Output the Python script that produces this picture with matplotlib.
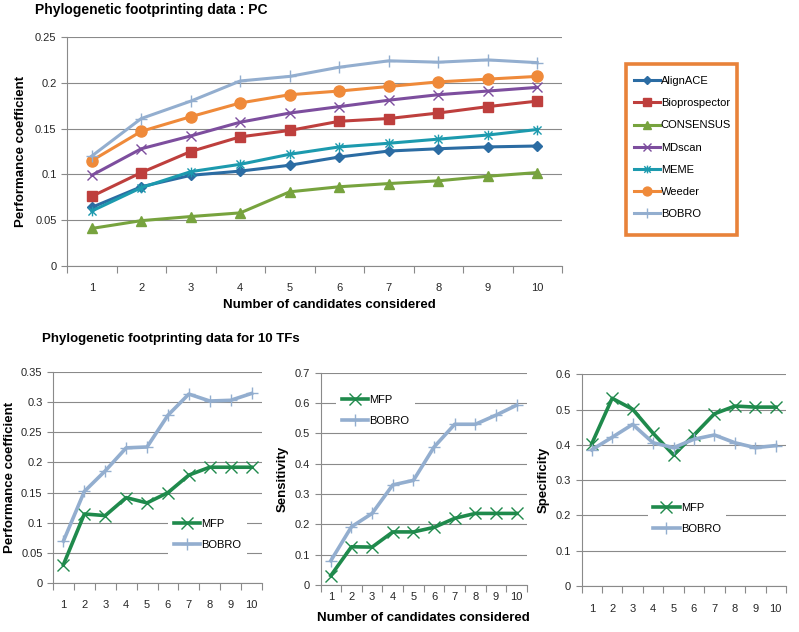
import numpy as np
import matplotlib
matplotlib.use("Agg")
import matplotlib.pyplot as plt
from matplotlib.path import Path
from matplotlib.patches import Rectangle

plt.rcParams["font.family"] = ["Liberation Sans", "DejaVu Sans"]

# ── data ────────────────────────────────────────────────────────────────
CANDIDATES = ["1", "2", "3", "4", "5", "6", "7", "8", "9", "10"]

PC_ALIGNACE = [0.064, 0.0865, 0.099, 0.1036, 0.110, 0.119, 0.1255, 0.128, 0.130, 0.131]
PC_BIOPROSPECTOR = [0.076, 0.102, 0.125, 0.141, 0.148, 0.158, 0.161, 0.167, 0.174, 0.180]
PC_CONSENSUS = [0.041, 0.0495, 0.054, 0.058, 0.081, 0.0865, 0.090, 0.093, 0.098, 0.102]
PC_MDSCAN = [0.099, 0.128, 0.142, 0.157, 0.167, 0.174, 0.181, 0.187, 0.191, 0.195]
PC_MEME = [0.060, 0.0855, 0.103, 0.111, 0.122, 0.130, 0.134, 0.1385, 0.143, 0.149]
PC_WEEDER = [0.115, 0.147, 0.163, 0.178, 0.187, 0.191, 0.196, 0.201, 0.204, 0.207]
PC_BOBRO = [0.120, 0.161, 0.180, 0.202, 0.207, 0.217, 0.224, 0.2225, 0.225, 0.222]

TF_PC_MFP = [0.031, 0.1147, 0.112, 0.1417, 0.133, 0.150, 0.179, 0.192, 0.192, 0.192]
TF_PC_BOBRO = [0.070, 0.152, 0.186, 0.224, 0.2255, 0.278, 0.313, 0.3015, 0.3027, 0.314]

TF_SENS_MFP = [0.031, 0.126, 0.125, 0.175, 0.175, 0.190, 0.220, 0.236, 0.236, 0.236]
TF_SENS_BOBRO = [0.080, 0.192, 0.236, 0.330, 0.345, 0.455, 0.530, 0.530, 0.560, 0.593]

TF_SPEC_MFP = [0.403, 0.532, 0.501, 0.433, 0.3715, 0.428, 0.488, 0.510, 0.507, 0.507]
TF_SPEC_BOBRO = [0.386, 0.4215, 0.458, 0.406, 0.392, 0.416, 0.428, 0.406, 0.392, 0.398]

# ── style ───────────────────────────────────────────────────────────────
W, H = 799, 632
GRID = "#8a8a8a"
TXT = "#262626"
MFP_COL = "#1f8a4c"
BOBRO_COL = "#93aecf"

# Excel-style star marker: x plus vertical bar
STAR = Path([(-1, -1), (1, 1), (-1, 1), (1, -1), (0, -1.2), (0, 1.2)],
            [Path.MOVETO, Path.LINETO, Path.MOVETO, Path.LINETO,
             Path.MOVETO, Path.LINETO])


def px_axes(fig, left, right, top, bottom):
    return fig.add_axes([left / W, (H - bottom) / H,
                         (right - left) / W, (bottom - top) / H])


def style_axes(ax, ymax, ystep, xpad):
    n = len(CANDIDATES)
    x = np.arange(n)
    ax.set_xlim(-0.5, n - 0.5)
    ax.set_ylim(0, ymax)
    ax.set_xticks(np.arange(n + 1) - 0.5)
    ax.set_xticklabels([])
    ax.set_xticks(x, minor=True)
    ax.set_xticklabels(CANDIDATES, minor=True)
    ax.tick_params(axis="x", which="major", length=5, color=GRID, width=0.8)
    ax.tick_params(axis="x", which="minor", length=0, pad=xpad,
                   labelsize=8, labelcolor=TXT)
    yt = np.round(np.arange(0, ymax + ystep / 2, ystep), 3)
    ax.set_yticks(yt)
    ax.set_yticklabels([f"{v:g}" for v in yt])
    ax.tick_params(axis="y", length=4, color=GRID, width=0.8,
                   labelsize=8, labelcolor=TXT)
    ax.grid(axis="y", color=GRID, lw=0.8)
    ax.set_axisbelow(True)
    for s in ("top", "right"):
        ax.spines[s].set_visible(False)
    for s in ("left", "bottom"):
        ax.spines[s].set_color(GRID)
        ax.spines[s].set_linewidth(0.8)
    return x


fig = plt.figure(figsize=(W / 100, H / 100), dpi=100)

# ── top chart ───────────────────────────────────────────────────────────
ax = px_axes(fig, 67, 562, 37, 266)
x = style_axes(ax, 0.25, 0.05, 12)
series = [
    ("AlignACE", PC_ALIGNACE, "#2b6ca3", "D", 5),
    ("Bioprospector", PC_BIOPROSPECTOR, "#be3f3d", "s", 7),
    ("CONSENSUS", PC_CONSENSUS, "#77a33e", "^", 7),
    ("MDscan", PC_MDSCAN, "#7d4e9e", "x", 7),
    ("MEME", PC_MEME, "#1c9aae", STAR, 7),
    ("Weeder", PC_WEEDER, "#ef8a3a", "o", 8),
    ("BOBRO", PC_BOBRO, BOBRO_COL, "+", 9),
]
handles = []
for name, vals, col, mk, ms in series:
    (h,) = ax.plot(x, vals, color=col, lw=2.2, marker=mk, ms=ms,
                   mew=1, label=name, clip_on=False)
    handles.append(h)
ax.set_ylabel("Performance coefficient", fontsize=9.5, fontweight="bold",
              color="black", labelpad=6)
ax.set_xlabel("Number of candidates considered", fontsize=9.5,
              fontweight="bold", color="black")
ax.xaxis.set_label_coords(0.53, -0.145)
fig.text(35 / W, 1 - 10 / H, "Phylogenetic footprinting data : PC",
         fontsize=10, fontweight="bold", va="center", ha="left")

# legend with an orange frame drawn as its own box
fig.patches.append(Rectangle((626 / W, 1 - 235 / H), 111 / W, 171 / H,
                             transform=fig.transFigure, facecolor="white",
                             edgecolor="#e8823a", lw=2.6, zorder=0))
leg = fig.legend(handles=handles, loc="upper left",
                 bbox_to_anchor=(634 / W, 1 - 76 / H), fontsize=8,
                 handlelength=2.3, handletextpad=0.1, labelspacing=1.1,
                 borderpad=0, borderaxespad=0, frameon=False,
                 markerscale=0.8)

# ── bottom charts ───────────────────────────────────────────────────────
fig.text(42 / W, 1 - 339 / H, "Phylogenetic footprinting data for 10 TFs",
         fontsize=9.5, fontweight="bold", va="center", ha="left")

bottom = [
    ((53, 262, 371.7, 583.3), 0.35, 0.05, TF_PC_MFP, TF_PC_BOBRO,
     "Performance coefficient", (115 / 209, 1 - (521.7 - 371.7 - 8) / 211.6), 12),
    ((320.5, 527, 372.7, 585), 0.7, 0.1, TF_SENS_MFP, TF_SENS_BOBRO,
     "Sensitivity", (0.075, 1 - (397.7 - 372.7 - 8) / 212.3), 5),
    ((581.5, 786, 374.3, 586), 0.6, 0.1, TF_SPEC_MFP, TF_SPEC_BOBRO,
     "Specificity", (66 / 204.5, 1 - (505.7 - 374.3 - 8) / 211.7), 13),
]
for box, ymax, ystep, mfp, bobro, ylab, lpos, xpad in bottom:
    ax = px_axes(fig, *box)
    x = style_axes(ax, ymax, ystep, xpad)
    ax.plot(x, mfp, color=MFP_COL, lw=2.6, marker="x", ms=8, mew=1,
            label="MFP", clip_on=False)
    ax.plot(x, bobro, color=BOBRO_COL, lw=2.6, marker="+", ms=9, mew=1,
            label="BOBRO", clip_on=False)
    ax.set_ylabel(ylab, fontsize=9.5, fontweight="bold", color="black",
                  labelpad=4)
    lg = ax.legend(loc="upper left", bbox_to_anchor=lpos, fontsize=8,
                   handlelength=2.4, handletextpad=0.1, labelspacing=0.95,
                   borderpad=0.5, borderaxespad=0, frameon=True,
                   fancybox=False)
    lg.get_frame().set_edgecolor("none")
    lg.get_frame().set_facecolor("white")
    lg.get_frame().set_alpha(1)
    if ylab == "Sensitivity":
        ax.set_xlabel("Number of candidates considered", fontsize=9.5,
                      fontweight="bold", color="black", labelpad=7)

fig.savefig("out.png", dpi=100)
